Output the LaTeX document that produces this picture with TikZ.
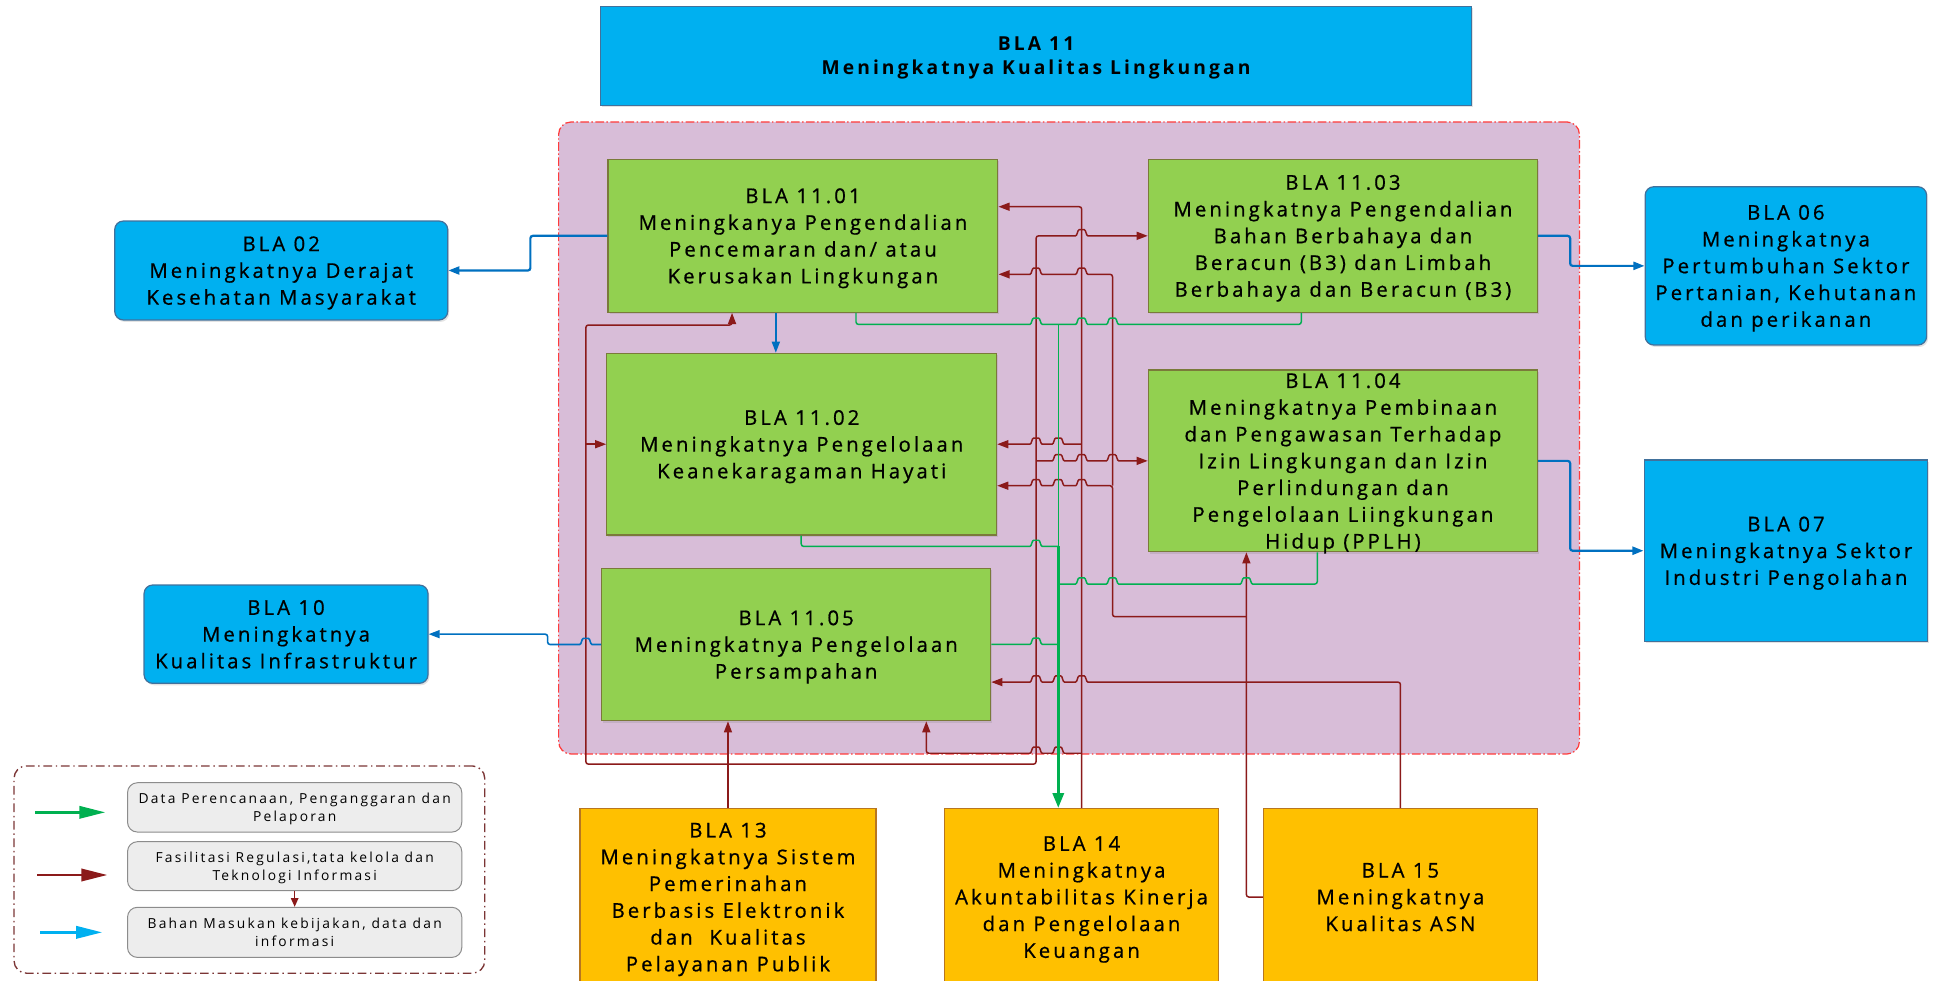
\documentclass[tikz,border=0pt]{standalone}
\usepackage{fontspec}
\setmainfont{Open Sans}[LetterSpace=16]
\newfontfamily\boxfont{Open Sans}[LetterSpace=15,FakeBold=0.7]
\usetikzlibrary{arrows.meta,shadows}
\definecolor{gfill}{HTML}{92D050}
\definecolor{gdraw}{HTML}{7A7A3A}
\definecolor{bfill}{HTML}{00B0F0}
\definecolor{bdraw}{HTML}{41719C}
\definecolor{ofill}{HTML}{FFC000}
\definecolor{odraw}{HTML}{B8761F}
\definecolor{pfill}{HTML}{D8BDD8}
\definecolor{pdraw}{HTML}{FF3B3B}
\definecolor{lred}{HTML}{8B1A1A}
\definecolor{lgreen}{HTML}{00B050}
\definecolor{lblue}{HTML}{0070C0}
\definecolor{lcyan}{HTML}{00B0F0}
\definecolor{legdraw}{HTML}{7B3535}
\definecolor{legfill}{HTML}{EDEDED}
\definecolor{legbdraw}{HTML}{8C8C8C}
\begin{document}
\begin{tikzpicture}[x=1pt,y=-1pt,
  box/.style={draw, line width=1pt, inner sep=0pt, align=center, text=black, text depth=0pt,
    font=\boxfont\fontsize{16.5}{21.7}\selectfont},
  shd/.style={drop shadow={shadow xshift=1.2pt,shadow yshift=-1.6pt,opacity=0.22}},
  gbox/.style={box, shd, fill=gfill, draw=gdraw},
  bbox/.style={box, shd, fill=bfill, draw=bdraw},
  rbbox/.style={bbox, rounded corners=7pt},
  obox/.style={box, fill=ofill, draw=odraw},
  lbox/.style={draw=legbdraw, fill=legfill, line width=0.8pt, rounded corners=8pt, inner sep=0pt,
    align=center, text depth=0pt, font=\fontsize{11.2}{14.5}\selectfont},
  rl/.style={draw=lred, line width=1.2pt, rounded corners=2pt},
  gl/.style={draw=lgreen, line width=1.2pt, rounded corners=2pt},
  bl/.style={draw=lblue, line width=1.3pt, rounded corners=2pt},
  arr/.style={-{Triangle[length=9pt,width=6.5pt]}},
  jr/.style 2 args={insert path={-- (#1-7,#2) .. controls (#1-3.5,#2) and (#1-3.5,#2-5) .. (#1,#2-5) .. controls (#1+3.5,#2-5) and (#1+3.5,#2) .. (#1+7,#2)}},
  jl/.style 2 args={insert path={-- (#1+7,#2) .. controls (#1+3.5,#2) and (#1+3.5,#2-5) .. (#1,#2-5) .. controls (#1-3.5,#2-5) and (#1-3.5,#2) .. (#1-7,#2)}}
]
\useasboundingbox (0,0) rectangle (1568,795);

% group region
\node[draw=pdraw, fill=pfill, line width=1pt, dash pattern=on 7pt off 2pt on 1.2pt off 2pt,
  rounded corners=10pt, minimum width=827.6pt, minimum height=512.4pt, inner sep=0pt] (grp) at (866.7,355.1) {};

% top box
\node[bbox, minimum width=706pt, minimum height=80.4pt, font=\fontsize{15.6}{20}\selectfont\bfseries] (n11) at (840,45.2)
  {BLA 11\\Meningkatnya Kualitas Lingkungan};

% inner boxes
\node[gbox, minimum width=316pt, minimum height=124pt] (n1101) at (651,191.2)
  {BLA 11.01\\Meningkanya Pengendalian\\Pencemaran dan/ atau\\Kerusakan Lingkungan};
\node[gbox, minimum width=316pt, minimum height=147.3pt] (n1102) at (650,360.15)
  {BLA 11.02\\Meningkatnya Pengelolaan\\Keanekaragaman Hayati};
\node[gbox, minimum width=315.6pt, minimum height=124pt] (n1103) at (1088.8,191.2)
  {BLA 11.03\\Meningkatnya Pengendalian\\Bahan Berbahaya dan\\Beracun (B3) dan Limbah\\Berbahaya dan Beracun (B3)};
\node[gbox, minimum width=315.6pt, minimum height=147.3pt] (n1104) at (1088.8,373.65)
  {BLA 11.04\\Meningkatnya Pembinaan\\dan Pengawasan Terhadap\\Izin Lingkungan dan Izin\\Perlindungan dan\\Pengelolaan Liingkungan\\Hidup (PPLH)};
\node[gbox, minimum width=315.4pt, minimum height=123.5pt] (n1105) at (645.5,522.55)
  {BLA 11.05\\Meningkatnya Pengelolaan\\Persampahan};

% outer blue boxes
\node[rbbox, minimum width=270pt, minimum height=80.2pt] (n02) at (228,219.3)
  {BLA 02\\Meningkatnya Derajat\\Kesehatan Masyarakat};
\node[rbbox, minimum width=228.2pt, minimum height=128.3pt] (n06) at (1447.9,215.55)
  {BLA 06\\Meningkatnya\\Pertumbuhan Sektor\\Pertanian, Kehutanan\\dan perikanan};
\node[bbox, minimum width=230pt, minimum height=147pt] (n07) at (1448,446.5)
  {BLA 07\\Meningkatnya Sektor\\Industri Pengolahan};
\node[rbbox, minimum width=230.2pt, minimum height=79.7pt] (n10) at (231.9,514.15)
  {BLA 10\\Meningkatnya\\Kualitas Infrastruktur};

% orange boxes
\node[obox, minimum width=240pt, minimum height=143.5pt] (n13) at (590.2,727.25)
  {BLA 13\\Meningkatnya Sistem\\Pemerinahan\\Berbasis Elektronik\\dan\ \ Kualitas\\Pelayanan Publik};
\node[obox, minimum width=222.3pt, minimum height=143.5pt] (n14) at (876.85,727.25)
  {BLA 14\\Meningkatnya\\Akuntabilitas Kinerja\\dan Pengelolaan\\Keuangan};
\node[obox, minimum width=222.2pt, minimum height=143.5pt] (n15) at (1135.4,727.25)
  {BLA 15\\Meningkatnya\\Kualitas ASN};

% ---- red connectors: BLA 13
\coordinate (j13) at (590.2,619.5);
\draw[rl,arr] (n13.north) -- (n1105.south -| n13.north);
\draw[rl,arr] (j13) -- (475,619.5) -- (475,263.5) -- (593.5,263.5) -- (n1101.south -| 593.5,0);
\draw[rl,arr] (475,360.15) -- (n1102.west);
\draw[rl,arr] (j13) -- (840,619.5) -- (840,191.2) [jr={877}{191.2}] -- (n1103.west);
\draw[rl,arr] (840,373.65) [jr={858}{373.65}] [jr={877}{373.65}] [jr={902}{373.65}] -- (n1104.west);
% ---- red connectors: BLA 14
\draw[rl,arr] (n14.north) -- (877,167.6) -- (n1101.east |- 0,167.6);
\draw[rl,arr] (877,360.15) [jl={858}{360.15}] [jl={840}{360.15}] -- (n1102.east);
\draw[rl,arr] (877,610.7) [jl={858}{610.7}] [jl={840}{610.7}] -- (751,610.7) -- (n1105.south -| 751,0);
% ---- red connectors: BLA 15
\draw[rl,arr] (n15.west) -- (1010.5,727.25) -- (n1104.south -| 1010.5,0);
\draw[rl,arr] (n15.north) -- (1135.4,553) [jl={877}{553}] [jl={858}{553}] [jl={840}{553}] -- (n1105.east |- 0,553);
\draw[rl,arr] (1010.5,500) -- (902,500) -- (902,393.8) [jl={877}{393.8}] [jl={858}{393.8}] [jl={840}{393.8}] -- (n1102.east |- 0,393.8);
\draw[rl,arr] (902,393.8) -- (902,222.4) [jl={877}{222.4}] [jl={840}{222.4}] -- (n1101.east |- 0,222.4);

% ---- green connectors
\draw[gl] (n1101.south -| 694,0) -- (694,263) [jr={840}{263}] -- (858,263);
\draw[gl] (n1103.south -| 1055,0) -- (1055,263) [jl={902}{263}] [jl={877}{263}] -- (858,263);
\draw[gl] (n1102.south -| 649.6,0) -- (649.6,443) [jr={840}{443}] -- (858,443);
\draw[gl] (n1104.south -| 1068,0) -- (1068,473.5) [jl={1010.5}{473.5}] [jl={902}{473.5}] [jl={877}{473.5}] -- (858,473.5);
\draw[gl] (n1105.east |- 0,522.4) [jr={840}{522.4}] -- (858,522.4);
\draw[gl] (858,263) -- (858,443);
\draw[draw=lgreen, line width=2.4pt, -{Triangle[length=12pt,width=9pt]}] (858,443) -- (n14.north -| 858,0);

% ---- blue connectors
\draw[bl, line width=1.8pt, arr] (n1101.west) -- (430,191.2) -- (430,219.3) -- (n02.east);
\draw[bl, arr] (n1101.south -| 629,0) -- (n1102.north -| 629,0);
\draw[bl, line width=1.8pt, arr] (n1103.east) -- (1273,191.2) -- (1273,215.55) -- (n06.west);
\draw[bl, line width=1.8pt, arr] (n1104.east) -- (1273,373.65) -- (1273,446.5) -- (n07.west);
\draw[bl, arr] (n1105.west) [jl={475}{522.55}] -- (444,522.55) -- (444,514.15) -- (n10.east);

% ---- legend
\node[draw=legdraw, line width=1.1pt, dash pattern=on 7pt off 3pt on 1.2pt off 3pt, rounded corners=10pt,
  minimum width=381.6pt, minimum height=168pt, inner sep=0pt] (leg) at (202.2,705) {};
\node[lbox, minimum width=271pt, minimum height=40pt] (lb1) at (238.9,654.6)
  {Data Perencanaan, Penganggaran dan\\Pelaporan};
\node[lbox, minimum width=271pt, minimum height=39.7pt] (lb2) at (238.9,702.25)
  {Fasilitasi Regulasi,tata kelola dan\\Teknologi Informasi};
\node[lbox, minimum width=271pt, minimum height=40.6pt] (lb3) at (238.9,755.9)
  {Bahan Masukan kebijakan, data dan\\informasi};
\draw[draw=lred, line width=1pt, -{Triangle[length=7pt,width=6pt]}] (lb2.south) -- (lb3.north);
\coordinate (la1) at (28.4,658.6); \coordinate (la2) at (85.3,658.6);
\coordinate (lr1) at (30,709.4);   \coordinate (lr2) at (87,709.4);
\coordinate (lc1) at (32.6,755.9); \coordinate (lc2) at (82.8,755.9);
\draw[draw=lgreen, line width=2pt, -{Triangle[length=21pt,width=10pt]}] (la1) -- (la2);
\draw[draw=lred, line width=2pt, -{Triangle[length=21pt,width=10pt]}] (lr1) -- (lr2);
\draw[draw=lcyan, line width=2pt, -{Triangle[length=21pt,width=10pt]}] (lc1) -- (lc2);
\end{tikzpicture}
\end{document}
